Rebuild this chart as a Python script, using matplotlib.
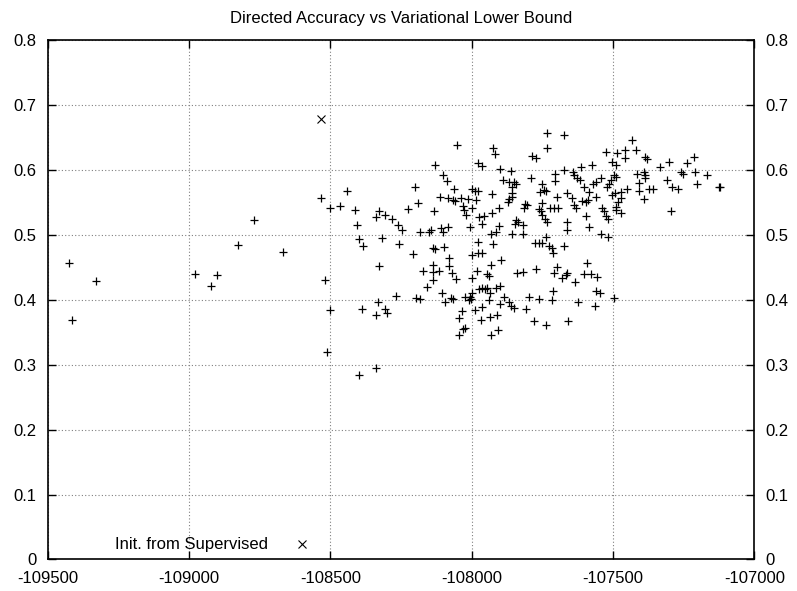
import matplotlib
matplotlib.use("Agg")
import matplotlib.pyplot as plt

plt.rcParams['font.family'] = ['Liberation Sans', 'DejaVu Sans']

# Variational lower bound (x) and directed accuracy (y) for each run
bound = [
    -109424, -109328, -109415, -108978, -108923, -108900, -108826, -108770, -108668, -108532,
    -108500, -108520, -108500, -108512,
    -108440, -108465, -108199, -108191, -108413, -108406, -108339, -108326, -108305, -108281,
    -108261, -108247, -108226,
    -108182, -108152, -108397, -108385, -108317, -108256, -108209, -108329, -108171, -108159,
    -108267, -108332, -108387, -108339, -108305, -108300, -108197, -108183, -108340, -108399,
    -108053, -108128, -107732, -107734, -107923, -107917, -107785, -107773, -107977, -107964,
    -107899, -107859, -107705, -107705, -108100, -108088, -107888, -107867, -107850, -107844,
    -107789, -107752, -107856, -108061, -107997, -107987, -107978, -107928, -107744, -107759,
    -107736, -107856, -107858, -108112, -108082, -108067, -108058, -108038, -108014, -107985,
    -107867, -107873, -107697, -107750, -107811, -107803, -108030, -108132, -108026, -107999,
    -107902, -107814, -107761, -107755, -107722, -107708, -107693, -108020, -107975, -107955,
    -107928, -107750, -107740, -107842, -107835, -107964, -107902, -107846, -107820, -107732,
    -108006, -108108, -108085, -108100, -108144,
    -107932, -107914, -107856, -107817, -107736, -107776, -107761, -107750, -107728, -107714,
    -107712, -108135, -108128, -108097, -107979, -107924, -108079, -107997, -107976, -107962,
    -107897, -107930, -108079, -108138, -108138, -108117, -108069, -107981, -107944, -107938,
    -107838, -107820, -107773, -107697, -107709, -108135, -108055, -107999, -107899, -107973,
    -107964, -107952, -107944, -107914, -107997, -107935, -108105, -108023, -108006, -108073,
    -108067, -108094, -108011, -108002, -107940, -107885, -107797, -107761, -107717, -107712,
    -107900, -107867, -107861, -107850, -107962, -107987, -107808, -108034, -107909, -107935,
    -108046, -107967, -107779, -107738, -108023, -108032, -107905, -108046, -107932,
    -107673, -107432, -107523, -107485, -107458, -107418, -107456, -107388, -107380, -107505,
    -107489, -107303, -107332, -107673, -107614, -107573, -107641, -107638, -107626, -107618,
    -107497, -107489, -107415, -107391, -107388, -107385, -107544, -107561, -107571, -107508,
    -107514, -107520, -107309, -107291, -107271, -107409, -107409, -107371, -107359, -107662,
    -107644, -107603, -107585, -107391, -107559, -107609, -107595, -107587, -107505, -107493,
    -107473, -107450, -107473, -107481, -107491, -107638, -107632, -107538, -107532, -107526,
    -107517, -107489, -107470, -107595, -107293,
    -107662, -107662, -107585, -107544, -107517, -107673, -107591, -107662, -107666, -107679,
    -107603, -107577, -107556, -107634, -107559, -107547, -107497, -107623, -107564, -107658,
    -107214, -107238, -107261, -107253, -107211, -107168, -107203, -107126, -107120,
]
accuracy = [
    0.457, 0.429, 0.369, 0.439, 0.421, 0.438, 0.484, 0.523, 0.474, 0.557,
    0.542, 0.430, 0.384, 0.320,
    0.567, 0.545, 0.574, 0.549, 0.538, 0.515, 0.528, 0.536, 0.530, 0.525,
    0.515, 0.508, 0.540,
    0.505, 0.505, 0.493, 0.483, 0.495, 0.486, 0.470, 0.452, 0.444, 0.420,
    0.406, 0.397, 0.386, 0.376, 0.386, 0.380, 0.402, 0.401, 0.295, 0.284,
    0.639, 0.608, 0.657, 0.633, 0.633, 0.624, 0.621, 0.618, 0.611, 0.606,
    0.601, 0.598, 0.594, 0.583, 0.592, 0.583, 0.585, 0.581, 0.581, 0.579,
    0.588, 0.579, 0.574, 0.571, 0.571, 0.568, 0.567, 0.563, 0.569, 0.566,
    0.567, 0.565, 0.559, 0.559, 0.556, 0.553, 0.552, 0.556, 0.555, 0.553,
    0.555, 0.551, 0.559, 0.549, 0.548, 0.546, 0.545, 0.536, 0.538, 0.541,
    0.542, 0.541, 0.539, 0.536, 0.542, 0.541, 0.541, 0.530, 0.527, 0.529,
    0.534, 0.530, 0.525, 0.523, 0.520, 0.517, 0.514, 0.516, 0.515, 0.519,
    0.512, 0.510, 0.512, 0.505, 0.507,
    0.502, 0.505, 0.501, 0.501, 0.496, 0.488, 0.488, 0.488, 0.483, 0.479,
    0.472, 0.479, 0.478, 0.481, 0.489, 0.486, 0.465, 0.469, 0.472, 0.472,
    0.461, 0.454, 0.452, 0.454, 0.443, 0.445, 0.441, 0.444, 0.439, 0.437,
    0.441, 0.442, 0.447, 0.450, 0.441, 0.431, 0.432, 0.433, 0.421, 0.416,
    0.418, 0.416, 0.418, 0.418, 0.410, 0.411, 0.411, 0.405, 0.405, 0.403,
    0.401, 0.397, 0.400, 0.401, 0.400, 0.405, 0.405, 0.401, 0.400, 0.413,
    0.394, 0.396, 0.391, 0.387, 0.389, 0.384, 0.386, 0.383, 0.377, 0.373,
    0.372, 0.369, 0.368, 0.361, 0.356, 0.355, 0.354, 0.346, 0.345,
    0.654, 0.646, 0.628, 0.626, 0.631, 0.631, 0.618, 0.620, 0.617, 0.612,
    0.608, 0.612, 0.605, 0.600, 0.605, 0.607, 0.597, 0.592, 0.587, 0.584,
    0.592, 0.589, 0.594, 0.597, 0.592, 0.587, 0.587, 0.582, 0.579, 0.584,
    0.579, 0.573, 0.585, 0.573, 0.570, 0.580, 0.568, 0.571, 0.570, 0.565,
    0.556, 0.574, 0.566, 0.555, 0.558, 0.552, 0.551, 0.553, 0.561, 0.565,
    0.566, 0.571, 0.556, 0.551, 0.543, 0.546, 0.541, 0.541, 0.536, 0.529,
    0.524, 0.538, 0.533, 0.529, 0.536,
    0.519, 0.508, 0.512, 0.501, 0.497, 0.483, 0.457, 0.441, 0.438, 0.433,
    0.440, 0.440, 0.435, 0.428, 0.413, 0.410, 0.402, 0.397, 0.391, 0.367,
    0.620, 0.611, 0.597, 0.593, 0.596, 0.592, 0.579, 0.574, 0.574,
]

# the run initialised from the supervised model
init_bound = [-108532]
init_accuracy = [0.678]

x_ticks = [-109500, -109000, -108500, -108000, -107500, -107000]
y_ticks = [0, 0.1, 0.2, 0.3, 0.4, 0.5, 0.6, 0.7, 0.8]
y_labels = ['0', '0.1', '0.2', '0.3', '0.4', '0.5', '0.6', '0.7', '0.8']

fig = plt.figure(figsize=(7.97, 5.91), dpi=100)
ax = fig.add_axes([0.0598, 0.0533, 0.8866, 0.879])

ax.plot(bound, accuracy, linestyle='none', marker='+', markersize=5.8,
        markeredgewidth=0.9, color='black')
ax.plot(init_bound, init_accuracy, linestyle='none', marker='x', markersize=5.5,
        markeredgewidth=0.8, color='black', label='Init. from Supervised')

ax.set_xlim(-109500, -107000)
ax.set_ylim(0, 0.8)
ax.set_xticks(x_ticks)
ax.set_xticklabels([str(t) for t in x_ticks])
ax.set_yticks(y_ticks)
ax.set_yticklabels(y_labels)

ax.grid(True, color='#808080', linestyle=(0, (1, 2)), linewidth=0.8)
ax.tick_params(direction='in', length=6, width=1.0, labelsize=12,
               top=True, right=True, labelright=True)
ax.tick_params(axis='x', pad=8)
ax.tick_params(axis='y', pad=8)
for s in ax.spines.values():
    s.set_linewidth(1.2)

ax.set_title('Directed Accuracy vs Variational Lower Bound', fontsize=12, pad=12)

ax.legend(loc='center right', bbox_to_anchor=(0.374, 0.028), frameon=False,
          markerfirst=False, fontsize=12, handlelength=1.2, handletextpad=1.45,
          borderpad=0, borderaxespad=0)

fig.savefig('out.png', dpi=100)
